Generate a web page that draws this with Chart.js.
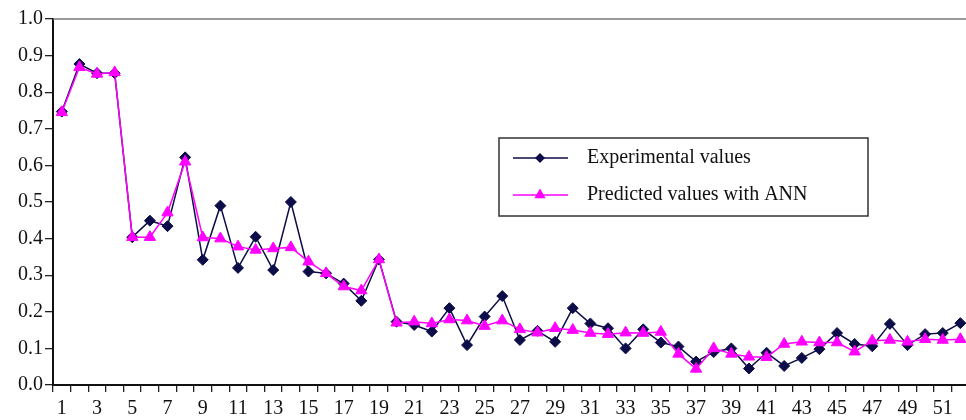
<!DOCTYPE html>
<html>
<head>
<meta charset="utf-8">
<script src="https://cdn.jsdelivr.net/npm/chart.js@4"></script>
<style>
  html, body { margin: 0; padding: 0; background: #fff; }
  #wrap { width: 966px; height: 420px; }
</style>
</head>
<body>
<div id="wrap"><canvas id="c" width="966" height="420"></canvas></div>
<script>
const categories = [1,2,3,4,5,6,7,8,9,10,11,12,13,14,15,16,17,18,19,20,21,22,23,24,25,26,
  27,28,29,30,31,32,33,34,35,36,37,38,39,40,41,42,43,44,45,46,47,48,49,50,51,52];
const experimental = [0.747,0.877,0.852,0.852,0.404,0.449,0.434,0.622,0.342,0.490,
  0.320,0.405,0.314,0.500,0.310,0.305,0.277,0.230,0.343,0.173,
  0.164,0.146,0.210,0.109,0.187,0.243,0.123,0.148,0.118,0.210,
  0.168,0.155,0.100,0.152,0.116,0.105,0.064,0.090,0.100,0.045,
  0.088,0.052,0.074,0.098,0.142,0.112,0.106,0.167,0.109,0.139,0.142,0.169];
const predicted = [0.745,0.868,0.850,0.854,0.404,0.404,0.471,0.610,0.403,0.400,
  0.378,0.369,0.373,0.376,0.337,0.305,0.269,0.258,0.343,0.170,
  0.173,0.168,0.179,0.176,0.161,0.176,0.152,0.143,0.155,0.150,
  0.142,0.139,0.143,0.142,0.145,0.085,0.044,0.100,0.085,0.077,
  0.076,0.112,0.118,0.116,0.116,0.091,0.121,0.123,0.118,0.125,0.123,0.125];
const yTicks = [0,0.1,0.2,0.3,0.4,0.5,0.6,0.7,0.8,0.9,1.0];
const seriesNames = ['Experimental values', 'Predicted values with ANN'];

const NAVY = '#0c0c48';
const MAGENTA = '#ff00ff';
const FONT = 'Liberation Serif';

const toPoints = vals => vals.map((v, i) => ({ x: categories[i], y: v }));

const topBorder = {
  id: 'topBorder',
  afterDraw(chart) {
    const { ctx, chartArea } = chart;
    ctx.save();
    ctx.strokeStyle = '#777';
    ctx.lineWidth = 1.5;
    ctx.beginPath();
    ctx.moveTo(chartArea.left, chartArea.top);
    ctx.lineTo(chart.width, chartArea.top);
    ctx.stroke();
    ctx.restore();
  }
};

function drawDiamond(ctx, x, y, r, color) {
  ctx.fillStyle = color;
  ctx.beginPath();
  ctx.moveTo(x, y - r); ctx.lineTo(x + r, y); ctx.lineTo(x, y + r); ctx.lineTo(x - r, y);
  ctx.closePath(); ctx.fill();
}
function drawTriangle(ctx, x, y, r, color) {
  ctx.fillStyle = color;
  ctx.beginPath();
  ctx.moveTo(x, y - r);
  ctx.lineTo(x + r * 0.866, y + r * 0.5);
  ctx.lineTo(x - r * 0.866, y + r * 0.5);
  ctx.closePath(); ctx.fill();
}

const boxLegend = {
  id: 'boxLegend',
  afterDraw(chart) {
    const ctx = chart.ctx;
    ctx.save();
    ctx.strokeStyle = '#333';
    ctx.lineWidth = 1.5;
    ctx.strokeRect(499, 138, 369, 78);
    const rows = [
      { y: 158, color: NAVY, marker: 'diamond', label: seriesNames[0] },
      { y: 195, color: MAGENTA, marker: 'triangle', label: seriesNames[1] }
    ];
    rows.forEach(r => {
      ctx.strokeStyle = r.color;
      ctx.lineWidth = 1.5;
      ctx.beginPath(); ctx.moveTo(513, r.y); ctx.lineTo(568, r.y); ctx.stroke();
      if (r.marker === 'diamond') drawDiamond(ctx, 540, r.y, 5, r.color);
      else drawTriangle(ctx, 540, r.y, 6.5, r.color);
      ctx.fillStyle = '#111';
      ctx.font = '20px "' + FONT + '"';
      ctx.textBaseline = 'middle';
      ctx.textAlign = 'left';
      ctx.fillText(r.label, 587, r.y);
    });
    ctx.restore();
  }
};

new Chart(document.getElementById('c'), {
  type: 'line',
  data: {
    datasets: [
      {
        label: seriesNames[0],
        data: toPoints(experimental),
        borderColor: NAVY,
        backgroundColor: NAVY,
        borderWidth: 1.5,
        pointStyle: 'rectRot',
        pointRadius: 5.5,
        pointBorderWidth: 1,
        tension: 0,
        clip: false,
        order: 2
      },
      {
        label: seriesNames[1],
        data: toPoints(predicted),
        borderColor: MAGENTA,
        backgroundColor: MAGENTA,
        borderWidth: 1.5,
        pointStyle: 'triangle',
        pointRadius: 6.5,
        pointBorderWidth: 1,
        tension: 0,
        clip: false,
        order: 1
      }
    ]
  },
  options: {
    responsive: false,
    animation: false,
    devicePixelRatio: 1,
    layout: { autoPadding: false, padding: { top: 19, right: 0, left: 0, bottom: 0 } },
    plugins: { legend: { display: false }, tooltip: { enabled: false } },
    scales: {
      x: {
        type: 'linear',
        min: 0.5,
        max: 52.32,
        afterBuildTicks(scale) {
          const t = [];
          for (let i = 0; i < categories.length; i++) {
            t.push({ value: categories[i] - 0.5 });
            t.push({ value: categories[i] });
          }
          scale.ticks = t;
        },
        afterFit(scale) {
          scale.height = 35;
          scale.paddingLeft = 0;
          scale.paddingRight = 0;
        },
        border: { display: true, color: '#111', width: 2 },
        grid: {
          drawOnChartArea: false,
          tickLength: 7,
          lineWidth: 1.3,
          color: ctx => (ctx.tick && Number.isInteger(ctx.tick.value)) ? 'rgba(0,0,0,0)' : '#222'
        },
        ticks: {
          autoSkip: false,
          maxRotation: 0,
          padding: 5,
          color: '#111',
          font: { family: FONT, size: 20 },
          callback: v => (Number.isInteger(v) && categories.indexOf(v) % 2 === 0) ? String(v) : ''
        }
      },
      y: {
        min: 0,
        max: 1,
        afterBuildTicks(scale) { scale.ticks = yTicks.map(v => ({ value: v })); },
        afterFit(scale) { scale.width = 53; },
        border: { display: true, color: '#111', width: 2 },
        grid: { drawOnChartArea: false, tickLength: 8, color: '#222', lineWidth: 1.3 },
        ticks: {
          padding: 2,
          color: '#111',
          font: { family: FONT, size: 20 },
          callback: v => v.toFixed(1)
        }
      }
    }
  },
  plugins: [topBorder, boxLegend]
});
</script>
</body>
</html>
